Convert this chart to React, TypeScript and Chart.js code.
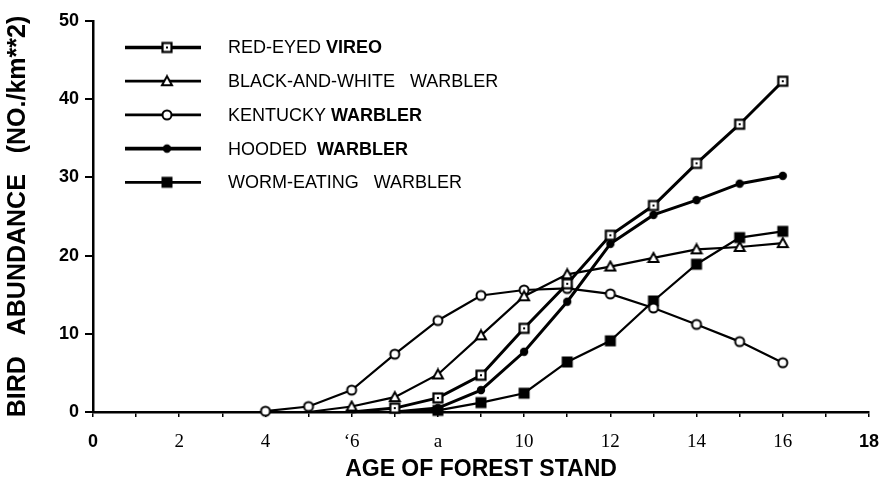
import React, { useEffect, useRef } from "react";
import { Chart, registerables } from "chart.js";

Chart.register(...registerables);

const xAges = [4, 5, 6, 7, 8, 9, 10, 11, 12, 13, 14, 15, 16];
const redEyedVireo = [null, null, 0, 0.5, 1.8, 4.7, 10.7, 16.4, 22.6, 26.4, 31.8, 36.8, 42.3];
const blackAndWhiteWarbler = [null, 0, 0.7, 1.9, 4.8, 9.8, 14.8, 17.6, 18.6, 19.7, 20.8, 21.1, 21.6];
const kentuckyWarbler = [0.1, 0.7, 2.8, 7.4, 11.7, 14.9, 15.6, 15.8, 15.1, 13.3, 11.2, 9.0, 6.3];
const hoodedWarbler = [null, null, null, 0, 0.5, 2.8, 7.7, 14.1, 21.5, 25.2, 27.1, 29.2, 30.2];
const wormEatingWarbler = [null, null, null, 0, 0.2, 1.2, 2.4, 6.4, 9.1, 14.2, 18.9, 22.3, 23.1];

const xTickLabels = ["0", "", "2", "", "4", "", "\u20186", "", "a", "", "10", "", "12", "", "14", "", "16", "", "18"];
const yTickValues = [0, 10, 20, 30, 40, 50];

const legendRows: { text: string; bold: boolean }[][] = [
  [{ text: "RED-EYED ", bold: false }, { text: "VIREO", bold: true }],
  [{ text: "BLACK-AND-WHITE   WARBLER", bold: false }],
  [{ text: "KENTUCKY ", bold: false }, { text: "WARBLER", bold: true }],
  [{ text: "HOODED  ", bold: false }, { text: "WARBLER", bold: true }],
  [{ text: "WORM-EATING   WARBLER", bold: false }],
];

function makeMarker(kind: string): HTMLCanvasElement {
  const c = document.createElement("canvas");
  const s = 14;
  c.width = s;
  c.height = s;
  const g = c.getContext("2d")!;
  const m = s / 2;
  g.lineWidth = 2;
  g.strokeStyle = "#000";
  g.fillStyle = "#000";
  if (kind === "sqDot") {
    g.fillStyle = "#fff";
    g.fillRect(m - 4.5, m - 4.5, 9, 9);
    g.lineWidth = 2.2;
    g.strokeRect(m - 4.5, m - 4.5, 9, 9);
    g.fillStyle = "#000";
    g.fillRect(m - 1, m - 1, 2, 2);
  } else if (kind === "triOpen") {
    g.beginPath();
    g.moveTo(m, m - 5);
    g.lineTo(m + 5, m + 4);
    g.lineTo(m - 5, m + 4);
    g.closePath();
    g.fillStyle = "#fff";
    g.fill();
    g.stroke();
  } else if (kind === "circOpen") {
    g.beginPath();
    g.arc(m, m, 4.5, 0, Math.PI * 2);
    g.fillStyle = "#fff";
    g.fill();
    g.stroke();
  } else if (kind === "circFilled") {
    g.beginPath();
    g.arc(m, m, 4.2, 0, Math.PI * 2);
    g.fill();
  } else {
    g.fillRect(m - 5.5, m - 5.5, 11, 11);
  }
  return c;
}

export default function App() {
  const ref = useRef<HTMLCanvasElement | null>(null);

  useEffect(() => {
    if (!ref.current) return;
    const markers = {
      sqDot: makeMarker("sqDot"),
      triOpen: makeMarker("triOpen"),
      circOpen: makeMarker("circOpen"),
      circFilled: makeMarker("circFilled"),
      sqFilled: makeMarker("sqFilled"),
    };
    const series = [
      { label: "RED-EYED VIREO", values: redEyedVireo, marker: markers.sqDot, width: 3 },
      { label: "BLACK-AND-WHITE WARBLER", values: blackAndWhiteWarbler, marker: markers.triOpen, width: 2.2 },
      { label: "KENTUCKY WARBLER", values: kentuckyWarbler, marker: markers.circOpen, width: 2.2 },
      { label: "HOODED WARBLER", values: hoodedWarbler, marker: markers.circFilled, width: 3 },
      { label: "WORM-EATING WARBLER", values: wormEatingWarbler, marker: markers.sqFilled, width: 2.2 },
    ];

    const legendPlugin = {
      id: "customLegend",
      afterDraw(chart: any) {
        const ctx = chart.ctx as CanvasRenderingContext2D;
        ctx.save();
        series.forEach((s, i) => {
          const y = 47.5 + i * 33.7;
          ctx.strokeStyle = "#000";
          ctx.lineWidth = s.width + 0.6;
          ctx.beginPath();
          ctx.moveTo(125, y);
          ctx.lineTo(201, y);
          ctx.stroke();
          ctx.drawImage(s.marker, 167 - s.marker.width / 2, y - s.marker.height / 2);
          let x = 228;
          ctx.fillStyle = "#000";
          ctx.textBaseline = "middle";
          legendRows[i].forEach((seg) => {
            ctx.font = (seg.bold ? "bold " : "") + "18px 'Liberation Sans', Arial, sans-serif";
            ctx.fillText(seg.text, x, y + 1);
            x += ctx.measureText(seg.text).width;
          });
        });
        ctx.restore();
      },
    };

    const chart = new Chart(ref.current, {
      type: "line",
      data: {
        datasets: series.map((s) => ({
          label: s.label,
          data: xAges.map((x, i) => ({ x, y: s.values[i] as any })),
          borderColor: "#000",
          backgroundColor: "#000",
          borderWidth: s.width,
          pointStyle: s.marker as any,
          pointRadius: (c: any) => (c.raw && c.raw.y === 0 ? 0 : 5),
          tension: 0,
          clip: false as any,
        })),
      },
      options: {
        animation: false,
        responsive: false,
        layout: { padding: { top: 21, right: 0, left: 0, bottom: 0 } },
        plugins: {
          legend: { display: false },
          tooltip: { enabled: false },
        },
        scales: {
          x: {
            type: "linear",
            min: 0,
            max: 18,
            afterFit: (scale: any) => {
              scale.height = 71;
              scale.paddingRight = 11;
              scale.paddingLeft = 0;
            },
            afterBuildTicks: (scale: any) => {
              scale.ticks = xTickLabels.map((_, i) => ({ value: i }));
            },
            border: { display: true, color: "#000", width: 2.5 },
            grid: {
              display: true,
              drawOnChartArea: false,
              drawTicks: true,
              tickLength: 5,
              color: "#000",
              lineWidth: 1.5,
            },
            ticks: {
              autoSkip: false,
              maxRotation: 0,
              color: "#000",
              padding: 14,
              callback: (v: any) => xTickLabels[Math.round(Number(v))] ?? "",
              font: (c: any) => {
                const v = c.tick ? c.tick.value : 1;
                if (v === 0 || v === 18) {
                  return { family: "'Liberation Sans', Arial, sans-serif", size: 18, weight: "bold" };
                }
                return { family: "'Liberation Serif', 'Times New Roman', serif", size: 19, weight: "normal" };
              },
            },
            title: {
              display: true,
              text: "AGE OF FOREST STAND",
              color: "#000",
              font: { family: "'Liberation Sans', Arial, sans-serif", size: 23, weight: "bold" },
              padding: { top: 0, bottom: 0 },
            },
          },
          y: {
            type: "linear",
            min: 0,
            max: 50,
            afterFit: (scale: any) => {
              scale.width = 93;
            },
            afterBuildTicks: (scale: any) => {
              scale.ticks = yTickValues.map((v) => ({ value: v }));
            },
            border: { display: true, color: "#000", width: 2.5 },
            grid: {
              display: true,
              drawOnChartArea: false,
              drawTicks: true,
              tickLength: 8,
              color: "#000",
              lineWidth: 2,
            },
            ticks: {
              color: "#000",
              padding: 6,
              font: { family: "'Liberation Sans', Arial, sans-serif", size: 18, weight: "bold" },
            },
            title: {
              display: true,
              text: "BIRD   ABUNDANCE   (NO./km**2)",
              color: "#000",
              font: { family: "'Liberation Sans', Arial, sans-serif", size: 25, weight: "bold" },
              padding: { top: 3, bottom: 0 },
            },
          },
        },
      },
      plugins: [legendPlugin],
    });
    return () => chart.destroy();
  }, []);

  return (
    <div style={{ position: "fixed", left: 0, top: 0, width: 880, height: 483, background: "#fff" }}>
      <canvas ref={ref} width={880} height={483} />
    </div>
  );
}
